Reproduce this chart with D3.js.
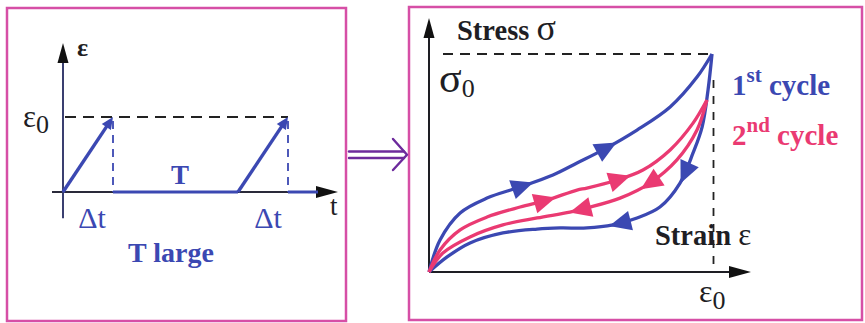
<!DOCTYPE html>
<html>
<head>
<meta charset="utf-8">
<script src="https://cdn.jsdelivr.net/npm/d3@7"></script>
<style>
  html, body { margin: 0; padding: 0; background: #ffffff; }
  svg { display: block; }
  svg text { font-family: "Liberation Serif", "Times New Roman", serif; }
</style>
</head>
<body>
<svg id="chart" width="865" height="323"></svg>
<script>
// ---- Strain program (left panel): time in units of Δt, strain in units of ε0 ----
const rampTimes   = [[0, 1], [3.5, 4.5]];      // start / end of each loading ramp
const restSegments = [[1, 3.5], [4.5, 5.1]];    // strain held at zero
const rampStrain  = [0, 1];                      // strain at start / end of ramp

// ---- Stress-strain loops (right panel): [strain/ε0, stress/σ0] ----
const loadingCycle1 = [
  [0, 0], [0.039, 0.147], [0.110, 0.271], [0.205, 0.339], [0.322, 0.390],
  [0.438, 0.445], [0.523, 0.500], [0.615, 0.560], [0.735, 0.651],
  [0.852, 0.757], [0.947, 0.894], [1, 1]
];
const unloadingCycle1 = [
  [1, 1], [0.986, 0.835], [0.965, 0.665], [0.933, 0.546], [0.887, 0.408],
  [0.816, 0.298], [0.735, 0.248], [0.650, 0.216], [0.558, 0.202],
  [0.463, 0.202], [0.382, 0.197], [0.261, 0.179], [0.145, 0.133],
  [0.064, 0.069], [0, 0]
];
const loadingCycle2 = [
  [0, 0], [0.039, 0.101], [0.110, 0.193], [0.205, 0.252], [0.322, 0.298],
  [0.417, 0.330], [0.523, 0.376], [0.558, 0.385], [0.664, 0.422],
  [0.756, 0.468], [0.852, 0.560], [0.933, 0.683], [0.982, 0.789]
];
const unloadingCycle2 = [
  [0.982, 0.789], [0.947, 0.651], [0.876, 0.514], [0.781, 0.408],
  [0.675, 0.339], [0.558, 0.294], [0.498, 0.275], [0.382, 0.248],
  [0.261, 0.216], [0.145, 0.161], [0.049, 0.087], [0, 0]
];
// strain positions of the direction arrows on each branch
const arrowsLoad1   = [0.332, 0.629];
const arrowsUnload1 = [0.905, 0.675];
const arrowsLoad2   = [0.41, 0.675];
const arrowsUnload2 = [0.78, 0.534];

const BLUE = "#3b48b2", PINK = "#ea3a72", FRAME = "#d64fa6", PURPLE = "#6c2a9c", INK = "#1e1e24";

const svg = d3.select("#chart");

// ---------- frames ----------
svg.append("rect").attr("x", 7).attr("y", 8).attr("width", 339).attr("height", 313)
  .attr("fill", "none").attr("stroke", FRAME).attr("stroke-width", 2.5);
svg.append("rect").attr("x", 409).attr("y", 7).attr("width", 453).attr("height", 313)
  .attr("fill", "none").attr("stroke", FRAME).attr("stroke-width", 2.5);

// double arrow linking the panels
const link = svg.append("g").attr("stroke", PURPLE).attr("stroke-width", 2.4)
  .attr("fill", "none").attr("stroke-linecap", "round");
link.append("line").attr("x1", 349).attr("x2", 404).attr("y1", 151.5).attr("y2", 151.5);
link.append("line").attr("x1", 349).attr("x2", 404).attr("y1", 158).attr("y2", 158);
link.append("path").attr("d", "M393,139 L407,154.7 L393,170").attr("stroke-linejoin", "round");

// ---------- left panel: strain vs time ----------
const xL = d3.scaleLinear().domain([0, 4.5]).range([63, 288]);
const yL = d3.scaleLinear().domain([0, 1]).range([192, 117]);

function arrowHead(g, tipX, tipY, angle, len, half, color) {
  const a = angle, c = Math.cos(a), s = Math.sin(a);
  const bx = tipX - c * len, by = tipY - s * len;
  g.append("path")
    .attr("d", `M${tipX},${tipY} L${bx - s * half},${by + c * half} L${bx + s * half},${by - c * half} Z`)
    .attr("fill", color);
}

const left = svg.append("g");
// axes
left.append("line").attr("x1", xL(-0.22)).attr("x2", xL(5.2)).attr("y1", yL(0)).attr("y2", yL(0))
  .attr("stroke", "#2a2a3a").attr("stroke-width", 2);
left.append("line").attr("x1", xL(0)).attr("x2", xL(0)).attr("y1", yL(-0.35)).attr("y2", yL(1.75))
  .attr("stroke", "#3a3f70").attr("stroke-width", 2);
arrowHead(left, xL(0), 43, -Math.PI / 2, 20, 5.5, "#111");
arrowHead(left, 338, yL(0), 0, 22, 6, "#111");

// ε0 level and ramp ends
left.append("line").attr("x1", xL(0) + 2).attr("x2", xL(4.5)).attr("y1", yL(1)).attr("y2", yL(1))
  .attr("stroke", "#222").attr("stroke-width", 1.8).attr("stroke-dasharray", "11,7");
rampTimes.forEach(r => {
  left.append("line").attr("x1", xL(r[1])).attr("x2", xL(r[1])).attr("y1", yL(1) + 4).attr("y2", yL(0))
    .attr("stroke", BLUE).attr("stroke-width", 1.8).attr("stroke-dasharray", "8,6");
});
// held segments
restSegments.forEach(s => {
  left.append("line").attr("x1", xL(s[0])).attr("x2", xL(s[1])).attr("y1", yL(0)).attr("y2", yL(0))
    .attr("stroke", BLUE).attr("stroke-width", 3);
});
// ramps with arrow tips
rampTimes.forEach(r => {
  const x0 = xL(r[0]), y0 = yL(rampStrain[0]), x1 = xL(r[1]), y1 = yL(rampStrain[1]);
  const ang = Math.atan2(y1 - y0, x1 - x0);
  left.append("line").attr("x1", x0).attr("y1", y0)
    .attr("x2", x1 - Math.cos(ang) * 8).attr("y2", y1 - Math.sin(ang) * 8)
    .attr("stroke", BLUE).attr("stroke-width", 3.4);
  arrowHead(left, x1, y1, ang, 12, 5.5, BLUE);
});

// left labels
left.append("text").attr("x", 77).attr("y", 56).attr("font-size", 26).attr("font-weight", "bold")
  .attr("fill", INK).text("ε");
const e0L = left.append("text").attr("x", 23).attr("y", 127).attr("font-size", 31).attr("fill", INK);
e0L.append("tspan").text("ε");
e0L.append("tspan").attr("font-size", 26).attr("dy", 6).text("0");
left.append("text").attr("x", 180).attr("y", 184).attr("text-anchor", "middle")
  .attr("font-size", 27).attr("font-weight", "bold").attr("fill", BLUE).text("T");
left.append("text").attr("x", 92).attr("y", 228).attr("text-anchor", "middle")
  .attr("font-size", 30).attr("fill", BLUE).text("Δt");
left.append("text").attr("x", 268).attr("y", 228).attr("text-anchor", "middle")
  .attr("font-size", 30).attr("fill", BLUE).text("Δt");
left.append("text").attr("x", 330).attr("y", 215).attr("font-size", 27).attr("fill", INK).text("t");
left.append("text").attr("x", 171).attr("y", 262).attr("text-anchor", "middle")
  .attr("font-size", 28).attr("font-weight", "bold").attr("fill", BLUE).text("T large");

// ---------- right panel: stress vs strain ----------
const xR = d3.scaleLinear().domain([0, 1]).range([429, 712]);
const yR = d3.scaleLinear().domain([0, 1]).range([272, 54]);

const right = svg.append("g");
right.append("line").attr("x1", xR(0)).attr("x2", 735).attr("y1", yR(0)).attr("y2", yR(0))
  .attr("stroke", INK).attr("stroke-width", 2);
right.append("line").attr("x1", xR(0)).attr("x2", xR(0)).attr("y1", yR(0)).attr("y2", 32)
  .attr("stroke", INK).attr("stroke-width", 2);
arrowHead(right, xR(0), 18, -Math.PI / 2, 20, 5.5, "#111");
arrowHead(right, 751, yR(0), 0, 22, 6, "#111");

right.append("line").attr("x1", 443).attr("x2", xR(1)).attr("y1", yR(1)).attr("y2", yR(1))
  .attr("stroke", "#222").attr("stroke-width", 1.8).attr("stroke-dasharray", "10,7");
right.append("line").attr("x1", 713.5).attr("x2", 713.5).attr("y1", 80).attr("y2", yR(0) - 3)
  .attr("stroke", "#222").attr("stroke-width", 1.8).attr("stroke-dasharray", "8,8");

const line = d3.line().x(d => xR(d[0])).y(d => yR(d[1])).curve(d3.curveCatmullRom.alpha(0.5));

function branch(data, color, arrows) {
  const p = right.append("path").datum(data).attr("d", line)
    .attr("fill", "none").attr("stroke", color).attr("stroke-width", 3.3)
    .attr("stroke-linejoin", "round");
  const node = p.node(), total = node.getTotalLength();
  arrows.forEach(target => {
    const tx = xR(target);
    let best = 0, bestD = Infinity;
    for (let l = 0; l <= total; l += 0.5) {
      const d = Math.abs(node.getPointAtLength(l).x - tx);
      if (d < bestD) { bestD = d; best = l; }
    }
    const a = node.getPointAtLength(Math.max(0, best - 3));
    const b = node.getPointAtLength(Math.min(total, best + 3));
    const ang = Math.atan2(b.y - a.y, b.x - a.x);
    const c = node.getPointAtLength(best);
    arrowHead(right, c.x + Math.cos(ang) * 11, c.y + Math.sin(ang) * 11, ang, 22, 10, color);
  });
}
branch(loadingCycle1, BLUE, arrowsLoad1);
branch(unloadingCycle1, BLUE, arrowsUnload1);
branch(loadingCycle2, PINK, arrowsLoad2);
branch(unloadingCycle2, PINK, arrowsUnload2);

// right labels
const stress = right.append("text").attr("x", 457).attr("y", 40).attr("font-size", 28.5)
  .attr("font-weight", "bold").attr("fill", INK);
stress.append("tspan").text("Stress ");
stress.append("tspan").attr("font-size", 36).attr("font-weight", "normal").text("σ");
const s0 = right.append("text").attr("x", 439).attr("y", 92).attr("font-size", 42).attr("fill", INK);
s0.append("tspan").text("σ");
s0.append("tspan").attr("font-size", 26).attr("dy", 5).text("0");
const strain = right.append("text").attr("x", 655).attr("y", 245).attr("font-size", 28.5)
  .attr("font-weight", "bold").attr("fill", INK);
strain.append("tspan").text("Strain ");
strain.append("tspan").attr("font-size", 31).attr("font-weight", "normal").text("ε");
const e0R = right.append("text").attr("x", 699).attr("y", 302).attr("font-size", 32).attr("fill", INK);
e0R.append("tspan").text("ε");
e0R.append("tspan").attr("font-size", 26).attr("dy", 7).text("0");

const c1 = right.append("text").attr("x", 732).attr("y", 95).attr("font-size", 29)
  .attr("font-weight", "bold").attr("fill", BLUE);
c1.append("tspan").text("1");
c1.append("tspan").attr("font-size", 21).attr("dy", -13).text("st");
c1.append("tspan").attr("dy", 13).text(" cycle");
const c2 = right.append("text").attr("x", 732).attr("y", 145).attr("font-size", 29)
  .attr("font-weight", "bold").attr("fill", PINK);
c2.append("tspan").text("2");
c2.append("tspan").attr("font-size", 21).attr("dy", -13).text("nd");
c2.append("tspan").attr("dy", 13).text(" cycle");
</script>
</body>
</html>
